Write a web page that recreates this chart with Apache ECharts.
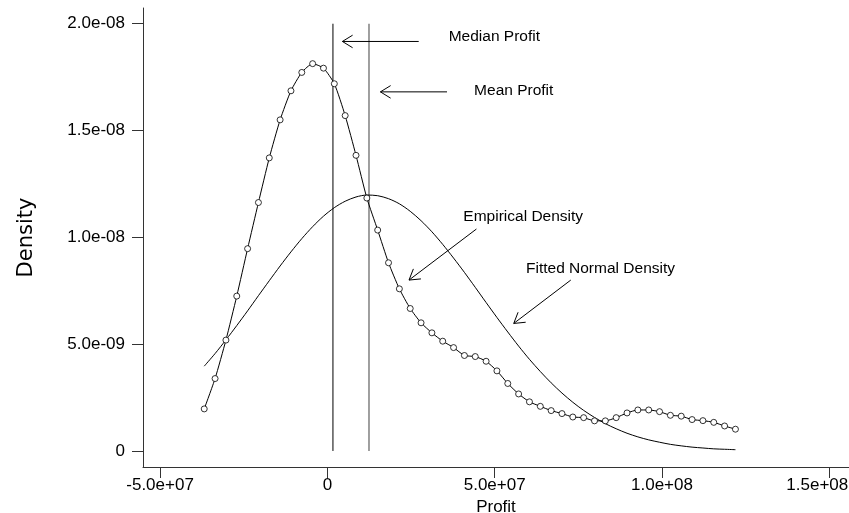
<!DOCTYPE html>
<html>
<head>
<meta charset="utf-8">
<script src="https://cdn.jsdelivr.net/npm/echarts@6/dist/echarts.min.js"></script>
<style>
html,body{margin:0;padding:0;background:#fff;overflow:hidden;width:100%;height:100%;}
#chart{position:absolute;left:0;top:0;width:849px;height:513px;}
</style>
</head>
<body>
<div id="chart"></div>
<script>
// Profit grid (x values of the density estimates)
const profit = [-36.8e6,-33.56e6,-30.32e6,-27.08e6,-23.84e6,-20.6e6,-17.36e6,-14.12e6,-10.88e6,-7.64e6,
  -4.4e6,-1.16e6,2.08e6,5.32e6,8.56e6,11.8e6,15.04e6,18.28e6,21.52e6,24.76e6,
  28.0e6,31.24e6,34.48e6,37.72e6,40.96e6,44.2e6,47.44e6,50.68e6,53.92e6,57.16e6,
  60.4e6,63.64e6,66.88e6,70.12e6,73.36e6,76.6e6,79.84e6,83.08e6,86.32e6,89.56e6,
  92.8e6,96.04e6,99.28e6,102.52e6,105.76e6,109.0e6,112.24e6,115.48e6,118.72e6,121.96e6];
// Empirical density (units of 1e-9)
const empirical = [1.97,3.39,5.19,7.25,9.47,11.63,13.72,15.5,16.86,17.72,
  18.13,17.92,17.19,15.70,13.84,11.84,10.34,8.81,7.59,6.67,
  6.0,5.53,5.14,4.84,4.47,4.42,4.20,3.75,3.16,2.67,
  2.30,2.09,1.89,1.75,1.59,1.56,1.41,1.41,1.56,1.78,
  1.92,1.92,1.84,1.67,1.63,1.47,1.42,1.34,1.17,1.02];
// Fitted normal density (units of 1e-9)
const fittedNormal = [3.97,4.56,5.20,5.87,6.56,7.27,7.97,8.66,9.32,9.94,
  10.50,10.99,11.39,11.69,11.89,11.98,11.95,11.81,11.57,11.22,
  10.78,10.26,9.67,9.03,8.36,7.66,6.95,6.25,5.57,4.91,
  4.29,3.72,3.19,2.71,2.28,1.90,1.57,1.28,1.04,0.83,
  0.66,0.52,0.41,0.31,0.24,0.18,0.14,0.10,0.08,0.06];
const medianProfit = 1.67e6;
const meanProfit = 1.244e7;
const refLineTop = 2.0e-8;
const xTicks = [-5e7, 0, 5e7, 1e8, 1.5e8];
const yTicks = [0, 5e-9, 1e-8, 1.5e-8, 2e-8];
// Annotations (data coordinates)
const annoText = ['Median Profit','Mean Profit','Empirical Density','Fitted Normal Density'];
const annoTextAt = [[4.99e7,1.939e-8],[5.57e7,1.687e-8],[5.854e7,1.097e-8],[8.163e7,8.52e-9]];
const arrowFrom = [[2.73e7,1.917e-8],[3.576e7,1.681e-8],[4.455e7,1.039e-8],[7.275e7,8.0e-9]];
const arrowTo = [[4.49e6,1.917e-8],[1.585e7,1.681e-8],[2.44e7,8.0e-9],[5.57e7,5.97e-9]];

function fmtExp(v){
  if (Math.abs(v) < 1e-30) return '0';
  const s = v.toExponential(1);
  const parts = s.split('e');
  let e = parseInt(parts[1],10);
  const sign = e < 0 ? '-' : '+';
  e = Math.abs(e);
  return parts[0] + 'e' + sign + (e < 10 ? '0' + e : '' + e);
}
function fmtX(v){
  const t = fmtExp(v);
  return v === xTicks[xTicks.length-1] ? '{last|' + t + '}' : t;
}

const empData = profit.map((x,i)=>[x, empirical[i]*1e-9]);
const normData = profit.map((x,i)=>[x, fittedNormal[i]*1e-9]);
const annoData = annoText.map((t,i)=>[arrowFrom[i][0],arrowFrom[i][1],arrowTo[i][0],arrowTo[i][1],annoTextAt[i][0],annoTextAt[i][1],i]);

const el = document.getElementById('chart');
const chart = echarts.init(el, null, {renderer:'canvas', width:849, height:513});
const axisColor = '#333';
const labelFont = 'Liberation Sans';
chart.setOption({
  animation:false,
  backgroundColor:'#fff',
  grid:{left:143, right:0, top:8, bottom:46, containLabel:false, outerBoundsMode:'none'},
  xAxis:{
    type:'value', min:-5.51e7, max:1.559e8,
    name:'Profit', nameLocation:'middle', nameGap:30,
    nameTextStyle:{color:'#000', fontSize:17, fontFamily:labelFont},
    axisLine:{show:true, onZero:false, lineStyle:{color:axisColor, width:1}},
    axisTick:{show:true, inside:false, length:11, customValues:xTicks, lineStyle:{color:axisColor}},
    axisLabel:{show:true, margin:10, customValues:xTicks, formatter:fmtX, color:'#000', fontSize:17, fontFamily:labelFont, hideOverlap:false,
      rich:{last:{color:'#000', fontSize:17, fontFamily:labelFont, padding:[0,24,0,0]}}},
    splitLine:{show:false}
  },
  yAxis:{
    type:'value', min:-0.75e-9, max:2.0736e-8,
    name:'Density', nameLocation:'middle', nameGap:106, nameRotate:90,
    nameTextStyle:{color:'#000', fontSize:21, fontFamily:'DejaVu Sans'},
    axisLine:{show:true, onZero:false, lineStyle:{color:axisColor, width:1}},
    axisTick:{show:true, inside:false, length:11, customValues:yTicks, lineStyle:{color:axisColor}},
    axisLabel:{show:true, margin:18, customValues:yTicks, formatter:fmtExp, color:'#000', fontSize:17, fontFamily:labelFont},
    splitLine:{show:false}
  },
  series:[
    {
      name:'Median', type:'line', data:[[medianProfit,0],[medianProfit,refLineTop]],
      symbol:'none', lineStyle:{color:'#000', width:1}, z:2
    },
    {
      name:'Mean', type:'line', data:[[meanProfit,0],[meanProfit,refLineTop]],
      symbol:'none', lineStyle:{color:'#888', width:1.6}, z:2
    },
    {
      name:'Fitted Normal Density', type:'line', data:normData, smooth:0.3,
      symbol:'none', lineStyle:{color:'#000', width:1}, z:3
    },
    {
      name:'Empirical Density', type:'line', data:empData, smooth:0.2,
      symbol:'circle', symbolSize:6, showSymbol:true,
      itemStyle:{color:'#fff', borderColor:'#000', borderWidth:0.8}, lineStyle:{color:'#000', width:1}, z:4
    },
    {
      name:'Annotations', type:'custom', data:annoData, z:5, silent:true,
      renderItem:function(params, api){
        const p1 = api.coord([api.value(0), api.value(1)]);
        const p2 = api.coord([api.value(2), api.value(3)]);
        const pt = api.coord([api.value(4), api.value(5)]);
        const idx = api.value(6);
        const ang = Math.atan2(p1[1]-p2[1], p1[0]-p2[0]);
        const L = 12, A = 0.55;
        const h1 = [p2[0]+L*Math.cos(ang+A), p2[1]+L*Math.sin(ang+A)];
        const h2 = [p2[0]+L*Math.cos(ang-A), p2[1]+L*Math.sin(ang-A)];
        return {
          type:'group',
          children:[
            {type:'line', shape:{x1:p1[0],y1:p1[1],x2:p2[0],y2:p2[1]}, style:{stroke:'#000', lineWidth:1}},
            {type:'polyline', shape:{points:[h1,p2,h2]}, style:{stroke:'#000', lineWidth:1, fill:null}},
            {type:'text', style:{text:annoText[idx], x:pt[0], y:pt[1], align:'center', verticalAlign:'middle',
              fontSize:15.5, fontFamily:labelFont, fill:'#000'}}
          ]
        };
      }
    }
  ]
});
</script>
</body>
</html>
